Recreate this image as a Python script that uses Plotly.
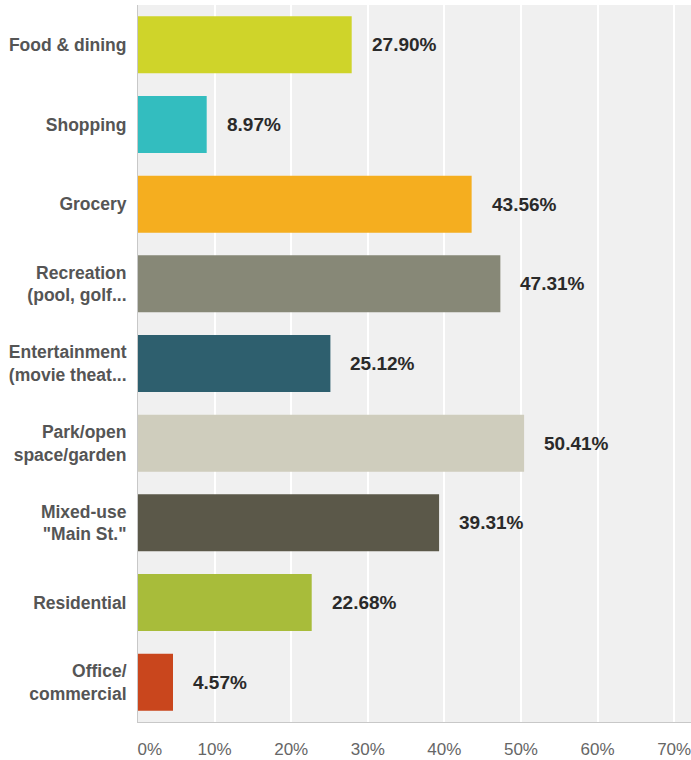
import plotly.graph_objects as go

categories = ["Food & dining", "Shopping", "Grocery", "Recreation<br>(pool, golf...",
              "Entertainment<br>(movie theat...", "Park/open<br>space/garden",
              "Mixed-use<br>\"Main St.\"", "Residential", "Office/<br>commercial"]
values = [27.90, 8.97, 43.56, 47.31, 25.12, 50.41, 39.31, 22.68, 4.57]
value_labels = ["27.90%", "8.97%", "43.56%", "47.31%", "25.12%", "50.41%", "39.31%", "22.68%", "4.57%"]
colors = ["#cfd42a", "#33bdbf", "#f5ae1f", "#878877", "#2e5f6e", "#cfcdbd", "#5b5849", "#a8bc3a", "#c9461d"]
tick_vals = [0, 10, 20, 30, 40, 50, 60, 70]
tick_text = ["\u00a0\u00a0\u00a0\u00a0\u00a00%", "10%", "20%", "30%", "40%", "50%", "60%", "70%"]

FONT = "Arial, 'Liberation Sans', sans-serif"

fig = go.Figure()
fig.add_trace(go.Bar(
    y=categories, x=values, orientation="h",
    marker=dict(color=colors, line=dict(width=0)),
    hoverinfo="skip", showlegend=False,
))

for c, v, t in zip(categories, values, value_labels):
    fig.add_annotation(x=v, y=c, text="<b>%s</b>" % t, showarrow=False,
                       xanchor="left", yanchor="middle", xshift=18,
                       font=dict(family=FONT, size=19, color="#2a2a2a"))

fig.update_layout(
    width=691, height=760,
    margin=dict(l=138, r=0, t=5, b=38),
    paper_bgcolor="white", plot_bgcolor="#f0f0f0",
    bargap=0.285,
    font=dict(family=FONT),
    xaxis=dict(range=[0, 72.2], tickvals=tick_vals, ticktext=tick_text,
               showgrid=True, gridcolor="white", gridwidth=2,
               zeroline=False, showline=True, linecolor="#c8c8c8", linewidth=1,
               tickfont=dict(family=FONT, size=17, color="#666666"),
               ticklabelstandoff=12, ticklabeloverflow="allow",
               automargin=False, fixedrange=True),
    yaxis=dict(categoryorder="array", categoryarray=categories, autorange="reversed",
               tickvals=categories, ticktext=["<b>%s</b>" % c for c in categories],
               showgrid=False, zeroline=False, showline=True, linecolor="#c8c8c8", linewidth=1,
               tickfont=dict(family=FONT, size=17.5, color="#555555"),
               ticklabelstandoff=7, ticklabeloverflow="allow",
               automargin=False, fixedrange=True),
)

fig.write_html("out.html", config={"displayModeBar": False})

# remove the default page margin so the figure sits at the window's top-left corner
with open("out.html", encoding="utf-8") as f:
    html = f.read()
html = html.replace("<head>", "<head><style>html,body{margin:0;padding:0;overflow:hidden;}</style>", 1)
with open("out.html", "w", encoding="utf-8") as f:
    f.write(html)
